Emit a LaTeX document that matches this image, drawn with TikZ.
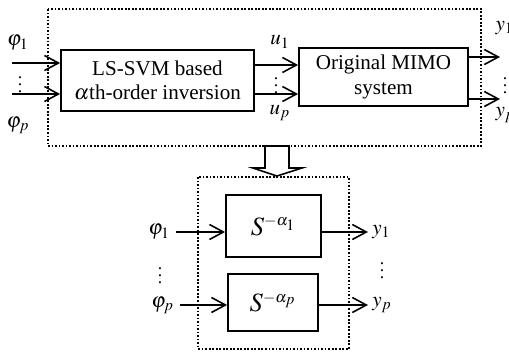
\documentclass[tikz,border=0pt]{standalone}
\usepackage{mathptmx}
\usepackage{fontspec}
\setmainfont{Liberation Serif}
\usetikzlibrary{positioning,arrows.meta}

\tikzset{
  blk/.style={draw, line width=1pt, align=center, inner sep=2pt},
  frame/.style={densely dotted, line width=1pt},
  lbl/.style={inner sep=1pt},
  vdts/.style={inner sep=0pt, font=\fontsize{10}{11}\selectfont}
}

\begin{document}
\begin{tikzpicture}[line width=0.9pt,
    >={Straight Barb[length=2.8mm,width=3mm]},
    every node/.style={font=\fontsize{12}{14}\selectfont}]

    \useasboundingbox (0,0) rectangle (10.18,-7.04);

    % --- dotted frames ---
    \draw[frame] (0.96,-0.18) rectangle (9.62,-2.92);
    \draw[frame] (3.96,-3.54) rectangle (6.98,-6.98);

    % --- top: inversion followed by the plant ---
    \node[blk, minimum width=3.86cm, minimum height=1.22cm] (inv) at (3.15,-1.61)
      {LS-SVM based\\$\alpha$th-order inversion};
    \node[blk, minimum width=3.38cm, minimum height=1.16cm] (mimo) at (7.67,-1.54)
      {Original MIMO\\system};

    % inputs
    \coordinate (in1) at (0.24,-1.26);
    \coordinate (inp) at (0.24,-1.88);
    \draw[->] (in1) -- (in1 -| inv.west);
    \draw[->] (inp) -- (inp -| inv.west);
    \node[lbl] (phi1) at (0.36,-0.86) {$\varphi_1$};
    \node[lbl] (phip) at (0.36,-2.5) {$\varphi_p$};
    \node[vdts] at (0.4,-1.58) {$\vdots$};

    % inversion -> plant
    \coordinate (u1) at ([yshift=0.31cm]inv.east);
    \coordinate (up) at ([yshift=-0.27cm]inv.east);
    \draw[->] (u1) -- (u1 -| mimo.west);
    \draw[->] (up) -- (up -| mimo.west);
    \node[lbl] at (5.6,-0.84) {$u_1$};
    \node[lbl] at (5.6,-2.26) {$u_p$};
    \node[vdts] at (5.52,-1.6) {$\vdots$};

    % outputs
    \coordinate (out1) at (10.0,-1.14);
    \coordinate (outp) at (10.0,-1.98);
    \draw[->] (mimo.east |- out1) -- (out1);
    \draw[->] (mimo.east |- outp) -- (outp);
    \node[lbl, anchor=west] at (9.86,-0.56) {$y_1$};
    \node[lbl, anchor=west] at (9.86,-2.3) {$y_p$};
    \node[vdts] at (10.1,-1.6) {$\vdots$};

    % --- hollow arrow between the frames ---
    \draw[fill=white] (5.3,-2.92) -- (5.3,-3.36) -- (5.06,-3.36) -- (5.54,-3.52)
      -- (6.04,-3.36) -- (5.78,-3.36) -- (5.78,-2.92) -- cycle;

    % --- bottom: decoupled pseudo-linear channels ---
    \node[blk, minimum width=1.9cm, minimum height=1.24cm,
          font=\fontsize{15}{17}\selectfont] (s1) at (5.47,-4.52)
      {$S^{\scriptscriptstyle -\alpha_1}$};
    \node[blk, minimum width=1.8cm, minimum height=1.14cm,
          font=\fontsize{15}{17}\selectfont] (sp) at (5.46,-6.05)
      {$S^{\scriptscriptstyle -\alpha_p}$};

    \coordinate (a1) at (3.52,-4.64);
    \coordinate (ap) at (3.6,-6.1);
    \coordinate (b1) at (7.36,-4.64);
    \coordinate (bp) at (7.36,-6.1);
    \draw[->] (a1) -- (a1 -| s1.west);
    \draw[->] (ap) -- (ap -| sp.west);
    \draw[->] (s1.east |- b1) -- (b1);
    \draw[->] (sp.east |- bp) -- (bp);

    \node[lbl, left=2pt of a1] {$\varphi_1$};
    \node[lbl, left=2pt of ap] {$\varphi_p$};
    \node[lbl, right=1pt of b1] {$y_1$};
    \node[lbl, right=1pt of bp] {$y_p$};
    \node[vdts] at (3.2,-5.4) {$\vdots$};
    \node[vdts] at (7.64,-5.3) {$\vdots$};

\end{tikzpicture}
\end{document}
